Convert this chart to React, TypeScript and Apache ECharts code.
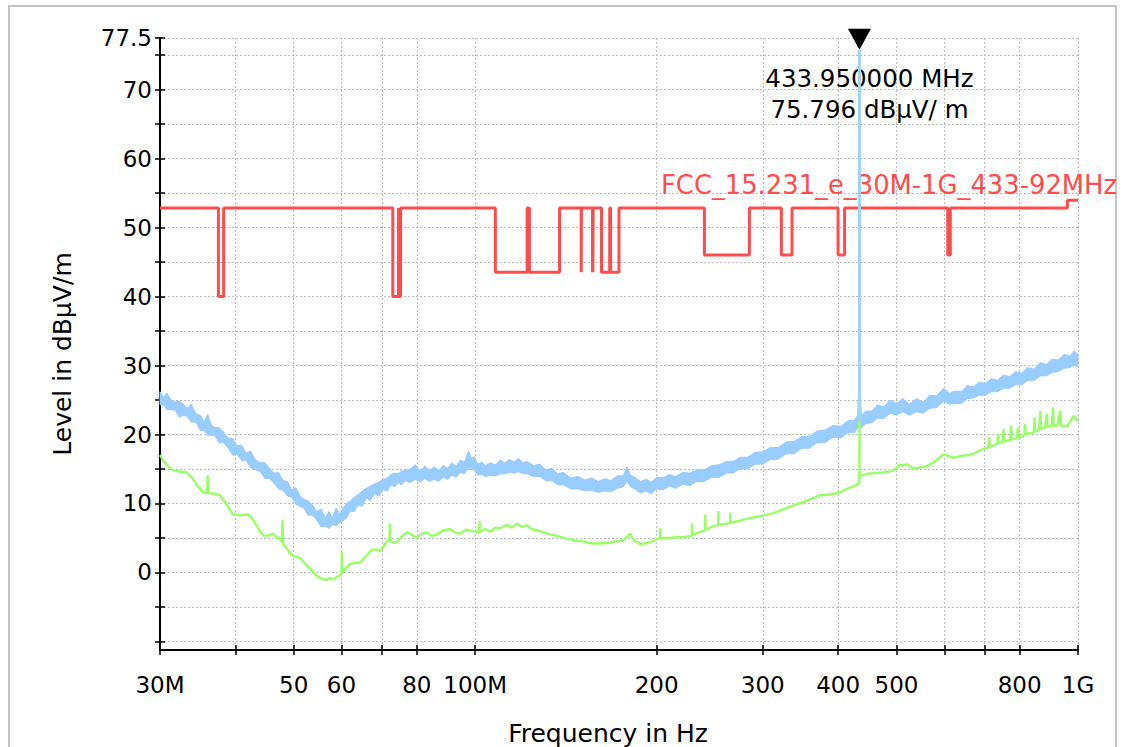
import React, { useEffect, useRef } from 'react';
import * as echarts from 'echarts';

// Frequency axis (MHz) – tick marks and labelled ticks
const tickFreqs = [30, 40, 50, 60, 70, 80, 100, 200, 300, 400, 500, 600, 700, 800, 1000];
const labelFreqs = [30, 50, 60, 80, 100, 200, 300, 400, 500, 800, 1000];

// Level axis (dBµV/m)
const levelTicks = [-10, -5, 0, 5, 10, 15, 20, 25, 30, 35, 40, 45, 50, 55, 60, 65, 70, 75, 77.5];
const levelLabels = [0, 10, 20, 30, 40, 50, 60, 70, 77.5];
const levelMin = -11.25;
const levelMax = 77.5;

// Limit line: [start MHz, end MHz, level dBµV/m]
const limitName = 'FCC_15.231_e_30M-1G_433-92MHz';
const limitSegments: [number, number, number][] = [
  [30, 37.5, 52.86], [37.5, 38.25, 40], [38.25, 73, 52.86], [73, 74.6, 40],
  [74.6, 74.8, 52.86], [74.8, 75.2, 40], [75.2, 108, 52.86], [108, 121.94, 43.52],
  [121.94, 123, 52.86], [123, 138, 43.52], [138, 149.9, 52.86], [149.9, 150.05, 43.52],
  [150.05, 156.52475, 52.86], [156.52475, 156.52525, 43.52], [156.52525, 156.7, 52.86],
  [156.7, 156.9, 43.52], [156.9, 162.0125, 52.86], [162.0125, 167.17, 43.52],
  [167.17, 167.72, 52.86], [167.72, 173.2, 43.52], [173.2, 240, 52.86], [240, 285, 46.02],
  [285, 322, 52.86], [322, 335.4, 46.02], [335.4, 399.9, 52.86], [399.9, 410, 46.02],
  [410, 608, 52.86], [608, 614, 46.02], [614, 960, 52.86], [960, 1000, 53.98],
];

// Peak detector sweep: noise band [MHz, lower dBµV/m, upper dBµV/m]
const peakBand: [number, number, number][] = [
  [30, 24.3, 26.2], [30.4, 24.3, 25.4], [30.8, 23.6, 26.0], [31.3, 23.6, 25.0], [31.8, 23.5, 24.7],
  [32.3, 22.5, 24.8], [32.8, 22.8, 24.4], [33.3, 22.6, 23.8], [33.8, 21.8, 24.4], [34.4, 21.8, 23.0],
  [35.0, 20.6, 22.8], [35.5, 20.6, 21.8], [36.0, 19.9, 22.9], [36.5, 19.9, 21.4], [37.0, 19.8, 21.0],
  [37.6, 18.8, 21.0], [38.2, 18.8, 20.4], [38.9, 18.1, 19.5], [39.6, 17.0, 19.4], [40.3, 17.1, 18.4],
  [41.0, 16.2, 18.4], [41.7, 16.2, 17.3], [42.4, 15.2, 17.6], [43.2, 14.9, 16.3], [44.0, 14.6, 15.9],
  [44.8, 13.6, 15.9], [45.6, 13.6, 15.1], [46.4, 12.9, 14.4], [47.2, 12.1, 14.5], [48.0, 11.9, 13.3],
  [48.8, 11.1, 13.2], [49.6, 10.9, 12.0], [50.4, 9.9, 12.3], [51.2, 9.6, 11.1], [52.0, 9.3, 10.6],
  [52.8, 8.3, 10.4], [53.7, 8.3, 9.8], [54.6, 7.6, 8.8], [55.5, 6.6, 9.2], [56.4, 6.7, 8.0],
  [57.2, 6.4, 8.8], [58.0, 6.9, 8.0], [58.8, 6.8, 9.3], [59.6, 7.2, 8.5], [60.4, 7.5, 9.4],
  [61.2, 7.9, 10.0], [62.0, 8.9, 10.3], [63.0, 8.8, 10.9], [64.0, 9.8, 11.3], [65.0, 9.6, 11.8],
  [66.0, 10.8, 12.2], [67.0, 10.4, 12.5], [68.0, 11.4, 12.8], [69.2, 11.1, 13.1], [70.4, 12.0, 13.5],
  [71.5, 11.8, 13.7], [72.5, 12.7, 14.2], [73.5, 12.4, 14.4], [74.5, 13.0, 14.3], [75.5, 12.7, 14.7],
  [76.5, 13.3, 14.8], [78.0, 13.0, 15.0], [79.5, 13.5, 15.6], [81.0, 13.1, 14.7], [82.5, 13.6, 15.4],
  [84.0, 13.2, 14.8], [85.5, 13.5, 15.3], [87.0, 13.2, 14.8], [88.5, 13.8, 15.5], [90.0, 13.5, 15.1],
  [91.5, 14.1, 15.9], [93.0, 13.8, 15.4], [94.5, 14.5, 16.3], [96.0, 14.3, 16.0], [97.5, 15.2, 17.6],
  [98.5, 14.9, 16.6], [99.5, 14.9, 16.8], [101, 14.1, 15.7], [102.5, 14.2, 16.0], [104, 13.9, 15.5],
  [106, 14.1, 15.9], [108, 14.0, 15.6], [110, 14.3, 16.3], [112, 14.3, 15.9], [114, 14.5, 16.4],
  [116, 14.4, 16.0], [118, 14.6, 16.5], [120, 14.3, 15.9], [122, 14.3, 16.1], [125, 13.9, 15.5],
  [128, 13.9, 15.7], [131, 13.3, 14.9], [134, 13.3, 15.1], [137, 12.7, 14.3], [140, 12.7, 14.5],
  [144, 12.1, 13.7], [148, 12.1, 13.9], [152, 11.8, 13.4], [156, 11.9, 13.7], [160, 11.6, 13.2],
  [164, 11.8, 13.6], [168, 11.7, 13.3], [172, 12.2, 14.0], [176, 12.4, 14.0], [178.6, 13.2, 15.3],
  [181, 12.4, 14.1], [184, 12.1, 13.8], [188, 11.5, 13.2], [192, 11.8, 13.5], [196, 11.4, 13.1],
  [200, 12.1, 13.8], [205, 12.0, 13.7], [210, 12.5, 14.2], [215, 12.2, 13.9], [221, 12.8, 14.5],
  [227, 12.6, 14.4], [233, 13.2, 14.9], [240, 13.2, 14.9], [247, 13.8, 15.5], [254, 13.8, 15.6],
  [261, 14.4, 16.1], [268, 14.4, 16.1], [275, 15.0, 16.7], [283, 15.0, 16.7], [291, 15.7, 17.4],
  [300, 15.7, 17.5], [309, 16.4, 18.1], [318, 16.4, 18.1], [328, 17.2, 18.9], [338, 17.2, 19.0],
  [348, 18.0, 19.7], [358, 18.0, 19.7], [369, 18.8, 20.5], [380, 18.8, 20.6], [392, 19.6, 21.3],
  [404, 19.5, 21.2], [416, 20.3, 22.0], [426, 20.3, 22.1], [431, 21.0, 22.8], [433, 20.6, 27.8],
  [435, 21.0, 27.5], [437, 21.0, 22.8], [445, 21.6, 23.4], [455, 21.7, 23.4], [465, 22.4, 24.3],
  [476, 22.3, 24.0], [488, 23.1, 25.0], [500, 22.8, 24.5], [512, 23.3, 25.2], [525, 22.8, 24.4],
  [540, 23.3, 25.2], [554, 23.1, 24.7], [568, 23.8, 25.7], [583, 23.9, 25.6], [598, 24.8, 26.7],
  [612, 24.4, 26.0], [626, 24.5, 26.3], [640, 24.5, 26.2], [655, 25.2, 27.1], [670, 25.3, 26.9],
  [686, 25.7, 27.6], [702, 25.7, 27.4], [718, 26.2, 28.1], [735, 26.2, 27.9], [752, 26.7, 28.6],
  [770, 26.7, 28.4], [788, 27.2, 29.1], [806, 27.2, 28.9], [825, 27.8, 29.7], [845, 27.8, 29.5],
  [866, 28.5, 30.4], [886, 28.5, 30.2], [906, 29.0, 30.9], [927, 29.1, 30.8], [948, 29.6, 31.6],
  [970, 29.7, 31.4], [985, 30.0, 32.1], [1000, 29.9, 31.6],
];

// Average detector trace [MHz, dBµV/m]
const avgTrace: [number, number][] = [
  [30, 17.0], [30.5, 16.0], [31, 15.3], [31.5, 14.8], [32.5, 14.6], [33.2, 14.5], [34, 13.6],
  [34.7, 12.4], [35.4, 11.6], [35.9, 11.5], [36.0, 14.1], [36.1, 11.5], [37.0, 11.4], [37.7, 11.2],
  [38.3, 10.4], [38.9, 9.6], [39.6, 8.4], [40.5, 8.3], [42.0, 8.4], [42.6, 7.9], [43.3, 6.9],
  [44.0, 5.9], [44.6, 5.3], [45.5, 5.4], [46.2, 5.6], [46.8, 5.1], [47.4, 5.0], [47.8, 4.4],
  [47.9, 7.6], [48.0, 4.1], [48.6, 3.6], [49.3, 2.8], [49.9, 2.4], [51.2, 2.1], [52.2, 1.3],
  [53, 0.7], [53.8, 0.1], [54.6, -0.5], [55.6, -0.9], [56.7, -1.1], [57.4, -0.8], [58.0, -1.0],
  [58.9, -0.7], [59.7, -0.4], [60.0, -0.2], [60.1, 3.0], [60.2, -0.1], [61.0, 0.6], [62.0, 1.2],
  [63.2, 1.4], [64.4, 1.4], [65.8, 2.3], [67.4, 3.3], [68.5, 3.3], [69.6, 3.1], [71.0, 4.2],
  [72.1, 4.9], [72.2, 7.1], [72.3, 4.6], [73.2, 4.3], [74.1, 4.4], [75.5, 5.2], [77.0, 5.8],
  [78.5, 5.5], [80.0, 5.0], [81.5, 5.6], [83.1, 5.8], [84.7, 5.3], [86.4, 5.5], [88.5, 6.1],
  [90.9, 6.3], [92.5, 5.8], [94.4, 5.6], [96.5, 6.2], [99.3, 6.0], [101.5, 5.8], [101.7, 7.5],
  [101.9, 5.9], [104, 6.3], [106, 5.9], [108, 6.5], [110, 6.4], [113, 6.9], [115, 6.5],
  [117.3, 7.1], [119.5, 6.6], [121.8, 6.8], [124, 6.3], [128.2, 6.0], [132, 5.6], [136.6, 5.3],
  [142, 4.9], [147, 4.6], [151.1, 4.5], [156, 4.2], [161.2, 4.2], [166, 4.3], [171.9, 4.5],
  [176, 4.7], [180.8, 5.6], [183, 4.7], [187.9, 4.1], [191, 4.2], [195.2, 4.4], [199, 4.7],
  [202.5, 5.0], [202.8, 6.4], [203.1, 5.0], [210, 5.0], [216, 5.1], [221.4, 5.1], [228.7, 5.3],
  [228.9, 7.1], [229.1, 5.4], [235, 5.8], [240.6, 6.1], [240.8, 8.4], [241.0, 6.2], [247, 6.6],
  [253, 6.9], [253.2, 8.9], [253.4, 7.0], [259, 7.0], [264.7, 7.2], [264.9, 8.7], [265.1, 7.2],
  [275, 7.5], [286, 7.9], [299, 8.2], [312.3, 8.6], [326, 9.2], [341.9, 9.9], [357, 10.5],
  [373.8, 11.2], [388, 11.3], [403.5, 11.6], [415, 12.2], [425, 12.5], [430, 12.8], [433.3, 13.0],
  [433.85, 13.2], [433.92, 47.4], [434.0, 13.8], [436, 14.0], [446.8, 14.3], [460, 14.4],
  [475.5, 14.5], [487, 14.6], [497.8, 15.0], [505, 15.6], [512, 15.5], [520.6, 15.7], [533, 15.1],
  [547.7, 15.2], [560, 15.4], [575.6, 15.9], [586, 16.5], [598.0, 17.1], [610, 16.9], [621.4, 16.6],
  [640, 16.9], [655, 17.0], [670.8, 17.2], [684, 17.6], [696.8, 17.9], [710, 18.1], [712, 19.6],
  [714, 18.2], [723.9, 18.4], [735, 18.7], [737, 20.1], [739, 18.7], [750, 18.9], [752, 20.8],
  [754, 19.0], [762.8, 19.1], [772, 19.2], [774, 21.3], [776, 19.3], [790, 19.4], [795, 21.0],
  [797, 19.5], [802.6, 19.6], [815, 19.9], [817, 21.5], [819, 20.0], [835, 20.2], [845, 20.3],
  [847, 22.5], [849, 20.4], [862, 20.7], [866, 23.4], [868, 20.8], [882, 21.0], [888, 23.0],
  [890, 21.1], [905, 21.2], [909, 23.9], [911, 21.3], [925, 21.3], [935, 23.5], [937, 21.3],
  [959.4, 21.2], [970, 21.8], [982.8, 22.7], [990, 22.3], [1000, 21.9],
];

// Carrier marker
const markerFreq = 433.95;
const markerLevel = 75.796;
const carrierBase = 21.8;

const FONT = 'DejaVu Sans';
const PEAK_COLOR = '#99ccff';
const lg = (f: number) => Math.log10(f);

function freqLabel(v: number): string {
  const f = Math.round(Math.pow(10, v));
  if (f >= 1000) return f / 1000 + 'G';
  if (f === 30 || f === 100) return f + 'M';
  return String(f);
}

export default function App() {
  const ref = useRef<HTMLDivElement>(null);

  useEffect(() => {
    if (!ref.current) return;
    const chart = echarts.init(ref.current, undefined, { renderer: 'svg' });

    const limitData: number[][] = [];
    limitSegments.forEach(([a, b, l]) => {
      limitData.push([lg(a), l], [lg(b), l]);
    });

    // one quad per step of the peak band: [x0, lo0, hi0, x1, lo1, hi1]
    const peakQuads: number[][] = [];
    for (let i = 0; i < peakBand.length - 1; i++) {
      const [f0, lo0, hi0] = peakBand[i];
      const [f1, lo1, hi1] = peakBand[i + 1];
      peakQuads.push([lg(f0), lo0, hi0, lg(f1), lo1, hi1]);
    }
    const avgData = avgTrace.map(([f, v]) => [lg(f), v]);
    const carrierData = [
      [lg(markerFreq), carrierBase],
      [lg(markerFreq), markerLevel],
    ];

    const tickLine = { color: '#000', width: 1.5 };
    const xMin = lg(tickFreqs[0]);
    const xMax = lg(tickFreqs[tickFreqs.length - 1]);

    const option: any = {
      animation: false,
      backgroundColor: '#fff',
      textStyle: { fontFamily: FONT },
      grid: { left: 160, right: 55, top: 38, bottom: 97, containLabel: false },
      xAxis: [
        {
          type: 'value',
          min: xMin,
          max: xMax,
          position: 'bottom',
          axisLine: { show: true, onZero: false, lineStyle: { color: '#000', width: 2 } },
          axisTick: { show: true, length: 5, customValues: tickFreqs.map(lg), lineStyle: tickLine },
          axisLabel: {
            show: true,
            customValues: labelFreqs.map(lg),
            formatter: (v: number) => freqLabel(v),
            color: '#000',
            fontSize: 23,
            fontFamily: FONT,
            margin: 23,
          },
          splitLine: { show: true, lineStyle: { color: '#bdbdbd', width: 1, type: [2, 2] } },
        },
        {
          type: 'value',
          min: xMin,
          max: xMax,
          position: 'bottom',
          axisLine: { show: false, onZero: false },
          axisTick: { show: true, inside: true, length: 5, customValues: tickFreqs.map(lg), lineStyle: tickLine },
          axisLabel: { show: false },
          splitLine: { show: false },
        },
      ],
      yAxis: [
        {
          type: 'value',
          min: levelMin,
          max: levelMax,
          position: 'left',
          axisLine: { show: true, onZero: false, lineStyle: { color: '#000', width: 2 } },
          axisTick: { show: true, length: 5, customValues: levelTicks, lineStyle: tickLine },
          axisLabel: {
            show: true,
            customValues: levelLabels,
            formatter: (v: number) => String(v),
            color: '#000',
            fontSize: 23,
            fontFamily: FONT,
            margin: 8,
          },
          splitLine: { show: true, lineStyle: { color: '#bdbdbd', width: 1, type: [2, 2] } },
        },
        {
          type: 'value',
          min: levelMin,
          max: levelMax,
          position: 'left',
          axisLine: { show: false, onZero: false },
          axisTick: { show: true, inside: true, length: 5, customValues: levelTicks, lineStyle: tickLine },
          axisLabel: { show: false },
          splitLine: { show: false },
        },
      ],
      graphic: [
        {
          type: 'rect',
          shape: { x: 9, y: 6, width: 1107, height: 800 },
          style: { fill: 'none', stroke: '#c4c4c4', lineWidth: 2 },
          silent: true,
        },
        {
          type: 'text',
          x: 1117,
          y: 185,
          z: 1,
          style: {
            text: limitName,
            fill: '#ff4d4d',
            font: `25.8px "${FONT}"`,
            align: 'right',
            verticalAlign: 'middle',
          },
          silent: true,
        },
        {
          type: 'text',
          x: 608,
          y: 733,
          style: {
            text: 'Frequency in Hz',
            fill: '#000',
            font: `25px "${FONT}"`,
            align: 'center',
            verticalAlign: 'middle',
          },
          silent: true,
        },
        {
          type: 'text',
          x: 62,
          y: 354,
          rotation: Math.PI / 2,
          style: {
            text: 'Level in dBµV/m',
            fill: '#000',
            font: `25px "${FONT}"`,
            align: 'center',
            verticalAlign: 'middle',
          },
          silent: true,
        },
      ],
      series: [
        {
          name: limitName,
          type: 'line',
          data: limitData,
          showSymbol: false,
          symbol: 'none',
          z: 2,
          lineStyle: { color: '#ff4d4d', width: 3 },
          silent: true,
        },
        {
          name: 'Peak',
          type: 'custom',
          data: peakQuads,
          encode: { x: [0, 3], y: [1, 2, 4, 5] },
          z: 3,
          silent: true,
          renderItem: (params: any, api: any) => {
            const a = api.coord([api.value(0), api.value(1)]);
            const b = api.coord([api.value(0), api.value(2)]);
            const c = api.coord([api.value(3), api.value(5)]);
            const d = api.coord([api.value(3), api.value(4)]);
            return {
              type: 'polygon',
              shape: { points: [a, b, c, d] },
              style: { fill: PEAK_COLOR, stroke: PEAK_COLOR, lineWidth: 1 },
            };
          },
        },
        {
          name: 'Average',
          type: 'line',
          data: avgData,
          showSymbol: false,
          symbol: 'none',
          z: 4,
          lineStyle: { color: '#99ff66', width: 2.4 },
          silent: true,
        },
        {
          name: 'Carrier',
          type: 'line',
          data: carrierData,
          showSymbol: false,
          symbol: 'none',
          z: 5,
          lineStyle: { color: '#9fd6ec', width: 3 },
          silent: true,
          markPoint: {
            silent: true,
            symbol: 'path://M0,0L24,0L12,22Z',
            symbolSize: [23, 21],
            symbolOffset: [0, -10.5],
            itemStyle: { color: '#000' },
            label: {
              show: true,
              position: 'bottom',
              distance: 13,
              offset: [10, 0],
              formatter: `${markerFreq.toFixed(6)} MHz\n${markerLevel.toFixed(3)} dBµV/ m`,
              color: '#000',
              fontSize: 24.5,
              lineHeight: 31,
              fontFamily: FONT,
              align: 'center',
            },
            data: [{ coord: [lg(markerFreq), markerLevel] }],
          },
        },
      ],
    };

    chart.setOption(option);
    return () => chart.dispose();
  }, []);

  return (
    <div
      ref={ref}
      style={{ position: 'fixed', left: 0, top: 0, width: 1133, height: 747, background: '#fff' }}
    />
  );
}
